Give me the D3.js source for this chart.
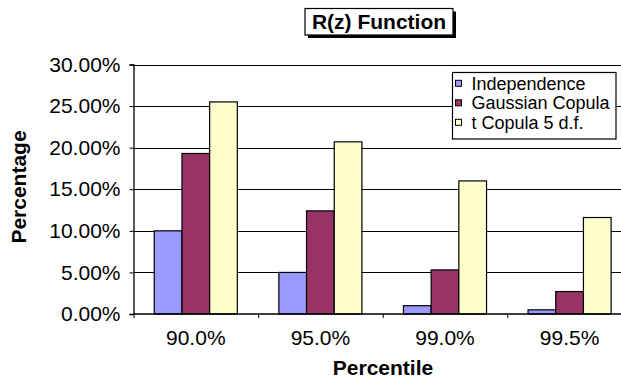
<!DOCTYPE html>
<html>
<head>
<meta charset="utf-8">
<script src="https://cdn.jsdelivr.net/npm/d3@7"></script>
<style>
  html, body { margin: 0; padding: 0; background: #fff; }
  svg { display: block; font-family: "Liberation Sans", Arial, Helvetica, sans-serif; }
</style>
</head>
<body>
<svg id="chart" width="621" height="378"></svg>
<script>
// R(z) by percentile for three dependence assumptions
const categories = ["90.0%", "95.0%", "99.0%", "99.5%"];
const seriesNames = ["Independence", "Gaussian Copula", "t Copula 5 d.f."];
const independence = [10.0, 5.0, 1.0, 0.5];
const gaussianCopula = [19.3, 12.4, 5.3, 2.7];
const tCopula5df = [25.5, 20.7, 16.0, 11.6];
const yTicks = [0, 5, 10, 15, 20, 25, 30];
const seriesColors = ["#9999FF", "#993366", "#FFFFCC"];

const seriesValues = [independence, gaussianCopula, tCopula5df];

(function draw() {
  const svg = d3.select("#chart");
  const W = 621;

  // plot frame
  const plotLeft = 133.5, plotBottom = 314, plotTop = 64.5;
  const catWidth = 124.6;

  const x0 = d3.scaleBand()
    .domain(categories)
    .range([plotLeft, plotLeft + catWidth * categories.length])
    .padding(0);

  const barW = catWidth / 4.5;
  const x1 = d3.scaleBand()
    .domain(seriesNames)
    .range([barW * 0.75, barW * 3.75])
    .padding(0);

  const y = d3.scaleLinear().domain([0, 30]).range([plotBottom, plotTop]);

  // gridlines
  svg.append("g")
    .selectAll("line")
    .data(yTicks.filter(t => t > 0))
    .join("line")
    .attr("x1", plotLeft).attr("x2", W + 20)
    .attr("y1", d => Math.round(y(d)) + 0.5)
    .attr("y2", d => Math.round(y(d)) + 0.5)
    .attr("stroke", "#000")
    .attr("stroke-width", 1);

  // bars
  const groups = svg.append("g")
    .selectAll("g")
    .data(categories)
    .join("g")
    .attr("transform", d => `translate(${x0(d)},0)`);

  groups.selectAll("rect")
    .data((c, i) => seriesNames.map((s, k) => ({ s, k, v: seriesValues[k][i] })))
    .join("rect")
    .attr("x", d => x1(d.s))
    .attr("y", d => y(d.v))
    .attr("width", x1.bandwidth())
    .attr("height", d => plotBottom - y(d.v))
    .attr("fill", d => seriesColors[d.k])
    .attr("stroke", "#000")
    .attr("stroke-width", 1.2);

  // y axis
  const yAxis = d3.axisLeft(y)
    .tickValues(yTicks)
    .tickSize(4)
    .tickPadding(9)
    .tickFormat(d => d.toFixed(2) + "%");

  const gy = svg.append("g")
    .attr("transform", `translate(${plotLeft},0)`)
    .call(yAxis);
  gy.select(".domain").attr("stroke", "#000").attr("stroke-width", 1.3);
  gy.selectAll(".tick line").attr("stroke", "#000");
  gy.selectAll(".tick text")
    .attr("font-size", 21)
    .attr("fill", "#000")
    .attr("font-family", "'Liberation Sans', Arial, sans-serif");

  // x axis: ticks at category boundaries
  const gx = svg.append("g");
  gx.append("line")
    .attr("x1", plotLeft).attr("x2", W + 20)
    .attr("y1", plotBottom).attr("y2", plotBottom)
    .attr("stroke", "#000").attr("stroke-width", 1.3);
  gx.selectAll("line.tk")
    .data(categories)
    .join("line")
    .attr("class", "tk")
    .attr("x1", d => x0(d) + 0.5).attr("x2", d => x0(d) + 0.5)
    .attr("y1", plotBottom).attr("y2", plotBottom + 4)
    .attr("stroke", "#000");
  gx.selectAll("text")
    .data(categories)
    .join("text")
    .attr("x", d => x0(d) + x0.bandwidth() / 2)
    .attr("y", 345)
    .attr("text-anchor", "middle")
    .attr("font-size", 21)
    .attr("fill", "#000")
    .text(d => d);

  // axis titles
  svg.append("text")
    .attr("x", 383).attr("y", 374.5)
    .attr("text-anchor", "middle")
    .attr("font-size", 21).attr("font-weight", "bold")
    .text("Percentile");

  svg.append("text")
    .attr("transform", "translate(25.5,187) rotate(-90)")
    .attr("text-anchor", "middle")
    .attr("font-size", 21).attr("font-weight", "bold")
    .text("Percentage");

  // title box with drop shadow
  const tb = { x: 305, y: 8.5, w: 148, h: 26.5 };
  svg.append("rect")
    .attr("x", tb.x + 3).attr("y", tb.y + 3)
    .attr("width", tb.w).attr("height", tb.h)
    .attr("fill", "#000");
  svg.append("rect")
    .attr("x", tb.x).attr("y", tb.y)
    .attr("width", tb.w).attr("height", tb.h)
    .attr("fill", "#fff").attr("stroke", "#000").attr("stroke-width", 1.2);
  svg.append("text")
    .attr("x", tb.x + tb.w / 2).attr("y", 28.5)
    .attr("text-anchor", "middle")
    .attr("font-size", 21).attr("font-weight", "bold")
    .text("R(z) Function");

  // legend
  const lg = svg.append("g");
  lg.append("rect")
    .attr("x", 452.5).attr("y", 72.5)
    .attr("width", 163.5).attr("height", 66.5)
    .attr("fill", "#fff").attr("stroke", "#000").attr("stroke-width", 1.2);
  const items = lg.selectAll("g.item")
    .data(seriesNames)
    .join("g")
    .attr("class", "item")
    .attr("transform", (d, i) => `translate(0,${83.3 + i * 19.5})`);
  items.append("rect")
    .attr("x", 455.5).attr("y", -3)
    .attr("width", 6).attr("height", 6)
    .attr("fill", (d, i) => seriesColors[i])
    .attr("stroke", "#000").attr("stroke-width", 1);
  items.append("text")
    .attr("x", 471.5).attr("y", 6.2)
    .attr("font-size", 18)
    .attr("fill", "#000")
    .text(d => d);
})();
</script>
</body>
</html>
